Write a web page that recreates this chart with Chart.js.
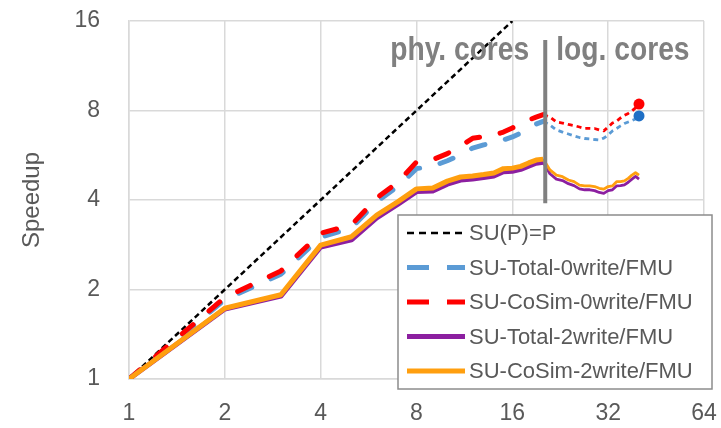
<!DOCTYPE html>
<html>
<head>
<meta charset="utf-8">
<script src="https://cdn.jsdelivr.net/npm/chart.js@4/dist/chart.umd.min.js"></script>
<style>
  html, body { margin: 0; padding: 0; background: #fff; }
  #wrap { width: 721px; height: 428px; }
</style>
</head>
<body>
<div id="wrap"><canvas id="su"></canvas></div>
<script>
// cores used (1..20 physical, 21..40 logical)
const cores = [1,2,3,4,5,6,7,8,9,10,11,12,13,14,15,16,17,18,19,20,
               21,22,23,24,25,26,27,28,29,30,31,32,33,34,35,36,37,38,39,40];

const idealCores = [1, 2, 4, 8, 16];
const idealSU = [1, 2, 4, 8, 16];

const suTotal0 = [1, 1.85, 2.25, 3.0, 3.22, 3.95, 4.45, 5.1, 5.2, 5.42,
                  5.67, 5.98, 6.13, 6.24, 6.37, 6.52, 6.72, 6.99, 7.2, 7.35,
                  7.15, 6.88, 6.77, 6.67, 6.57, 6.49, 6.44, 6.42, 6.39, 6.37,
                  6.46, 6.62, 6.83, 6.96, 7.1, 7.23, 7.32, 7.4, 7.49, 7.67];
const suCoSim0 = [1, 1.88, 2.31, 3.09, 3.3, 4.06, 4.6, 5.37, 5.47, 5.73,
                  6.08, 6.45, 6.54, 6.62, 6.77, 6.99, 7.2, 7.43, 7.6, 7.75,
                  7.61, 7.32, 7.26, 7.18, 7.12, 7.04, 6.96, 6.97, 6.96, 6.88,
                  6.83, 7.04, 7.26, 7.37, 7.55, 7.7, 7.82, 7.97, 8.16, 8.41];
const suTotal2 = [1, 1.72, 1.9, 2.78, 2.94, 3.48, 3.87, 4.27, 4.29, 4.52,
                  4.67, 4.71, 4.76, 4.82, 4.98, 5.0, 5.07, 5.2, 5.32, 5.36,
                  4.9, 4.7, 4.65, 4.54, 4.47, 4.36, 4.33, 4.33, 4.3, 4.24,
                  4.21, 4.3, 4.33, 4.46, 4.47, 4.5, 4.59, 4.7, 4.8, 4.7];
const suCoSim2 = [1, 1.73, 1.92, 2.82, 3.01, 3.56, 3.95, 4.36, 4.39, 4.63,
                  4.78, 4.82, 4.87, 4.93, 5.1, 5.12, 5.19, 5.33, 5.45, 5.49,
                  5.05, 4.85, 4.79, 4.67, 4.61, 4.49, 4.46, 4.46, 4.44, 4.38,
                  4.35, 4.44, 4.46, 4.61, 4.61, 4.64, 4.73, 4.85, 4.94, 4.85];

const xTicks = [1, 2, 4, 8, 16, 32, 64];
const yTicks = [1, 2, 4, 8, 16];

const physCores = 20;      // last physical core
const splitAt = 20.3;      // separator between phy. and log. cores
const splitTop = 13.8;
const splitBottom = 3.9;
const noteY = 11.8;

const grey = '#595959';
const lastIdx = cores.length - 1;

const pts = ys => cores.map((c, i) => ({ x: c, y: ys[i] }));
const afterPhys = ctx => ctx.p0.parsed.x >= physCores;

// long dashes up to the physical cores, short thin dots after
const dashedSegment = {
  borderDash: c => afterPhys(c) ? [5, 4] : undefined,
  borderWidth: c => afterPhys(c) ? 2.8 : undefined,
  borderCapStyle: c => afterPhys(c) ? 'butt' : undefined
};

const datasets = [
  {
    label: 'SU(P)=P',
    data: idealCores.map((c, i) => ({ x: c, y: idealSU[i] })),
    borderColor: '#000000', borderWidth: 2.5, borderDash: [5.5, 3.5],
    legendDash: [7, 5], legendWidth: 2.5
  },
  {
    label: 'SU-Total-0write/FMU',
    data: pts(suTotal0),
    borderColor: '#5B9BD5', borderWidth: 5, borderDash: [14, 21], borderCapStyle: 'round',
    pointRadius: c => c.dataIndex === lastIdx ? 5.5 : 0,
    pointBackgroundColor: '#1F6FC5', pointBorderWidth: 0,
    segment: dashedSegment,
    legendDash: [22, 18], legendWidth: 5
  },
  {
    label: 'SU-CoSim-0write/FMU',
    data: pts(suCoSim0),
    borderColor: '#FF0000', borderWidth: 5, borderDash: [14, 21], borderCapStyle: 'round',
    pointRadius: c => c.dataIndex === lastIdx ? 5.5 : 0,
    pointBackgroundColor: '#FF0000', pointBorderWidth: 0,
    segment: dashedSegment,
    legendDash: [22, 18], legendWidth: 5
  },
  {
    label: 'SU-Total-2write/FMU',
    data: pts(suTotal2),
    borderColor: '#8C1FA0', borderWidth: 5,
    segment: { borderWidth: c => afterPhys(c) ? 2.8 : undefined },
    legendDash: [], legendWidth: 5
  },
  {
    label: 'SU-CoSim-2write/FMU',
    data: pts(suCoSim2),
    borderColor: '#FF9F0F', borderWidth: 5,
    segment: { borderWidth: c => afterPhys(c) ? 2.8 : undefined },
    legendDash: [], legendWidth: 5
  }
];
// excel style: later series on top
datasets.forEach((d, i) => { d.order = datasets.length - i; d.pointRadius = d.pointRadius || 0; });

// draws text squeezed horizontally (no narrow bold font installed)
function narrowText(ctx, text, x, y, align, squeeze) {
  const w = ctx.measureText(text).width * squeeze;
  const x0 = align === 'right' ? x - w : x;
  ctx.save();
  ctx.translate(x0, y);
  ctx.scale(squeeze, 1);
  ctx.textAlign = 'left';
  ctx.fillText(text, 0, 0);
  ctx.restore();
}

const coresNote = {
  id: 'coresNote',
  afterDatasetsDraw(chart) {
    const { ctx, scales: { x, y } } = chart;
    const px = x.getPixelForValue(splitAt);
    ctx.save();
    ctx.strokeStyle = '#808080';
    ctx.lineWidth = 4;
    ctx.beginPath();
    ctx.moveTo(px, y.getPixelForValue(splitTop));
    ctx.lineTo(px, y.getPixelForValue(splitBottom));
    ctx.stroke();
    ctx.font = 'bold 34px "Liberation Sans", Arial, sans-serif';
    ctx.fillStyle = '#808080';
    ctx.textBaseline = 'alphabetic';
    const ty = y.getPixelForValue(noteY);
    narrowText(ctx, 'phy. cores', px - 16, ty, 'right', 0.83);
    narrowText(ctx, 'log. cores', px + 11, ty, 'left', 0.83);
    ctx.restore();
  }
};

// legend box drawn inside the plot, lower right
const boxLegend = {
  id: 'boxLegend',
  afterDraw(chart) {
    const { ctx, chartArea } = chart;
    const w = 314, h = 174, rowH = 34.5;
    const left = chartArea.right + 8 - w;
    const top = chartArea.bottom + 10 - h;
    ctx.save();
    ctx.fillStyle = '#fff';
    ctx.fillRect(left, top, w, h);
    ctx.strokeStyle = '#8c8c8c';
    ctx.lineWidth = 1.5;
    ctx.strokeRect(left, top, w, h);
    ctx.font = '22px "Liberation Sans", Arial, sans-serif';
    ctx.textBaseline = 'middle';
    ctx.textAlign = 'left';
    chart.data.datasets.forEach((d, i) => {
      const cy = top + 18 + i * rowH;
      ctx.strokeStyle = d.borderColor;
      ctx.lineWidth = d.legendWidth;
      ctx.setLineDash(d.legendDash);
      ctx.beginPath();
      ctx.moveTo(left + 9, cy);
      ctx.lineTo(left + 67, cy);
      ctx.stroke();
      ctx.setLineDash([]);
      ctx.fillStyle = grey;
      ctx.fillText(d.label, left + 71, cy + 1);
    });
    ctx.restore();
  }
};

const tickFont = { family: '"Liberation Sans", Arial, sans-serif', size: 23 };

new Chart(document.getElementById('su'), {
  type: 'line',
  data: { datasets },
  options: {
    responsive: true,
    maintainAspectRatio: false,
    animation: false,
    layout: { padding: { left: 0, top: 21, right: 17, bottom: 0 } },
    plugins: { legend: { display: false }, tooltip: { enabled: false } },
    elements: { line: { tension: 0, borderCapStyle: 'butt', borderJoinStyle: 'round' } },
    scales: {
      x: {
        type: 'logarithmic', min: 1, max: 64,
        afterBuildTicks: s => { s.ticks = xTicks.map(v => ({ value: v })); },
        afterFit: s => { s.height = 49; s.paddingLeft = 0; s.paddingRight = 0; },
        grid: { color: '#d9d9d9', lineWidth: 1.5, drawTicks: false },
        border: { color: '#d9d9d9', width: 1.5 },
        ticks: {
          callback: v => String(v), autoSkip: false, maxRotation: 0,
          padding: 21, color: grey, font: tickFont
        }
      },
      y: {
        type: 'logarithmic', min: 1, max: 16,
        afterBuildTicks: s => { s.ticks = yTicks.map(v => ({ value: v })); },
        afterFit: s => { s.width = 129; s.paddingTop = 0; s.paddingBottom = 0; },
        grid: { color: '#d9d9d9', lineWidth: 1.5, drawTicks: false },
        border: { color: '#d9d9d9', width: 1.5 },
        ticks: {
          callback: v => String(v), autoSkip: false,
          padding: 29, color: grey, font: tickFont
        },
        title: {
          display: true, text: 'Speedup', color: grey,
          padding: { top: 18, bottom: 0 },
          font: { family: '"Liberation Sans", Arial, sans-serif', size: 24 }
        }
      }
    }
  },
  plugins: [coresNote, boxLegend]
});
</script>
</body>
</html>
